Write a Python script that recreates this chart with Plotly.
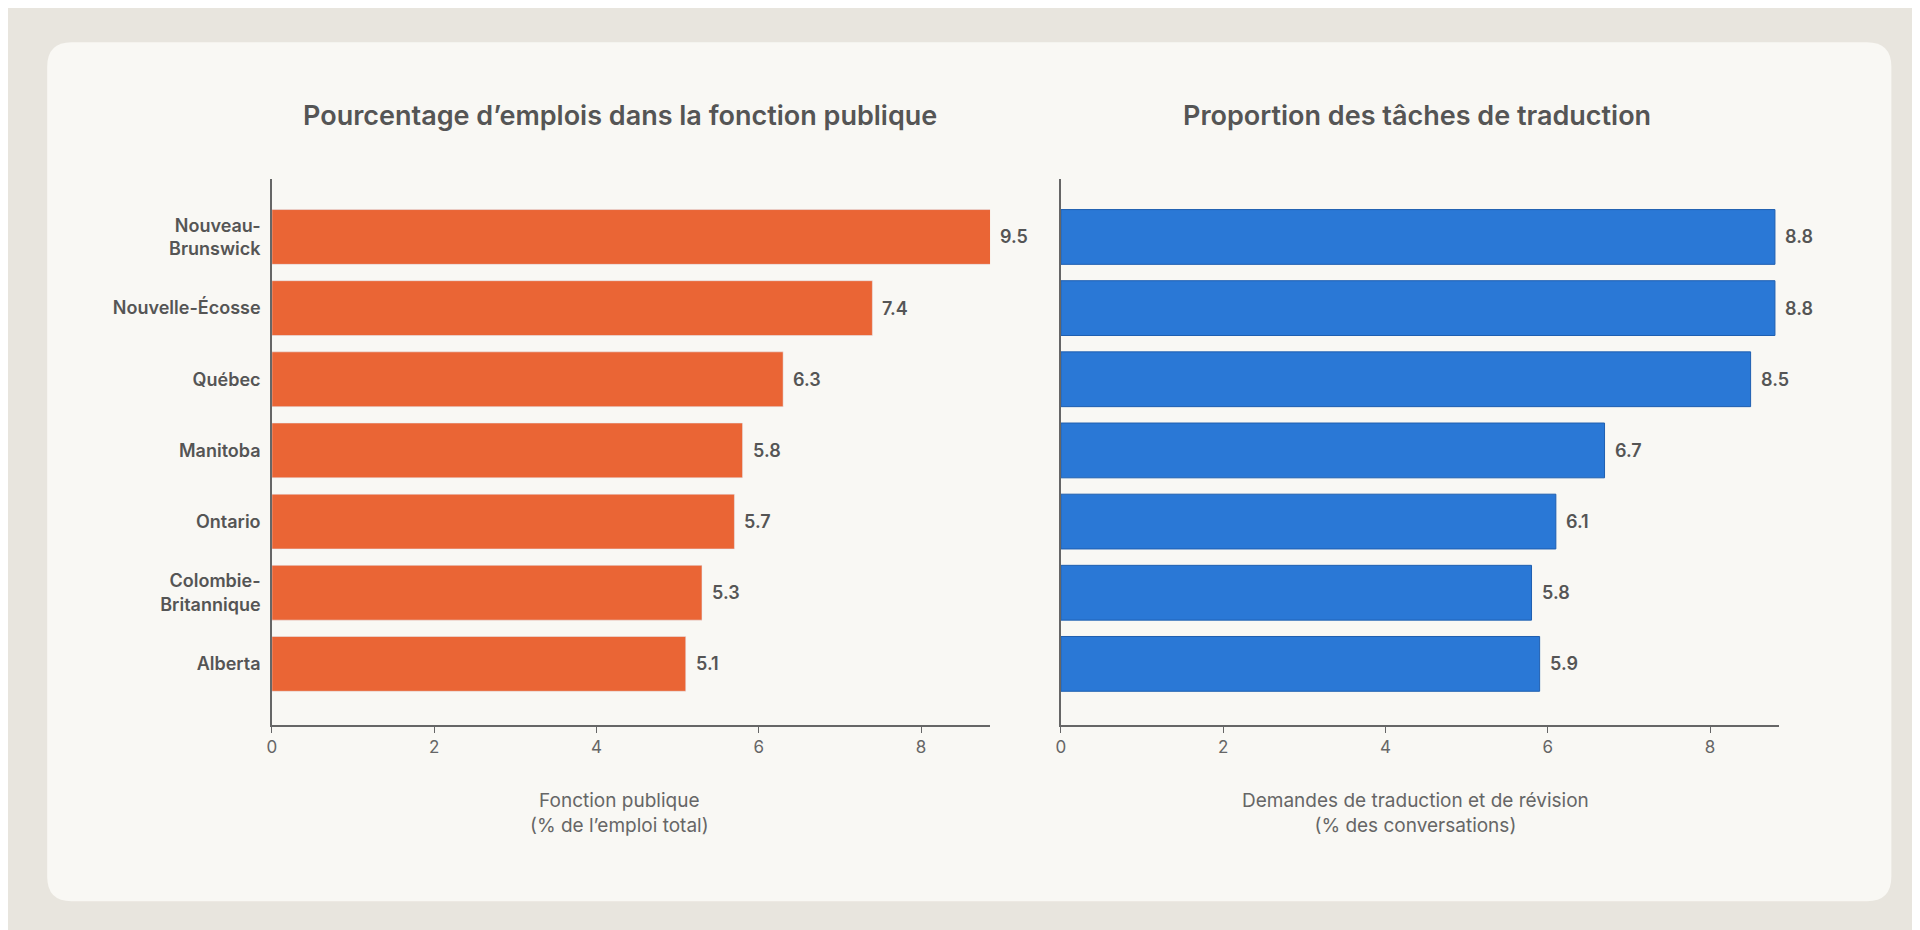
import plotly.graph_objects as go

provinces = ["Nouveau-<br>Brunswick", "Nouvelle-Écosse", "Québec", "Manitoba",
             "Ontario", "Colombie-<br>Britannique", "Alberta"]
fonction_publique = [9.5, 7.4, 6.3, 5.8, 5.7, 5.3, 5.1]
traduction = [8.8, 8.8, 8.5, 6.7, 6.1, 5.8, 5.9]
xmax = 8.85

W, H = 1568, 760
def fx(px): return px / W
def fy(py): return 1 - py / H

fig = go.Figure()
fig.add_bar(x=fonction_publique, y=provinces, orientation="h", marker_color="#EA6535",
            xaxis="x", yaxis="y")
fig.add_bar(x=traduction, y=provinces, orientation="h", marker_color="#2A78D6",
            marker_line=dict(color="#1f5fb0", width=1), xaxis="x2", yaxis="y2")

for vals, xa, ya in [(fonction_publique, "x", "y"), (traduction, "x2", "y2")]:
    for p, v in zip(provinces, vals):
        fig.add_annotation(x=min(v, xmax), y=p, xref=xa, yref=ya, text=f"{v:.1f}",
                           showarrow=False, xanchor="left", xshift=8,
                           font=dict(size=18, color="#555", weight=600))

axis_common = dict(range=[0, xmax], tickvals=[0, 2, 4, 6, 8], showgrid=False, zeroline=False,
                   showline=True, linecolor="#666", linewidth=1.5, ticks="outside",
                   ticklen=6, tickcolor="#666", tickfont=dict(size=17, color="#666"))
y_common = dict(categoryorder="array", categoryarray=provinces, range=[6.86, -0.81],
                showgrid=False, showline=True, linecolor="#666", linewidth=1.5, ticks="")
fig.update_layout(
    width=1920, height=930, margin=dict(l=0, r=0, t=0, b=0),
    paper_bgcolor="#E8E5DE", plot_bgcolor="rgba(0,0,0,0)", showlegend=False,
    bargap=0.23, font=dict(family="Inter, Open Sans, sans-serif"),
    xaxis=dict(domain=[fx(212), fx(800)], anchor="y", **axis_common),
    xaxis2=dict(domain=[fx(858), fx(1446)], anchor="y2", **axis_common),
    yaxis=dict(domain=[fy(586), fy(140)], anchor="x",
               tickfont=dict(size=18, color="#555", weight=600), ticklabelstandoff=6, **y_common),
    yaxis2=dict(domain=[fy(586), fy(140)], anchor="x2", showticklabels=False, **y_common),
)

# rounded card
x0, x1, y0, y1 = fx(28), fx(1538), fy(730), fy(28)
rx, ry = 20 / W, 20 / H
path = (f"M {x0+rx},{y0} L {x1-rx},{y0} Q {x1},{y0} {x1},{y0+ry} L {x1},{y1-ry} "
        f"Q {x1},{y1} {x1-rx},{y1} L {x0+rx},{y1} Q {x0},{y1} {x0},{y1-ry} "
        f"L {x0},{y0+ry} Q {x0},{y0} {x0+rx},{y0} Z")
fig.add_shape(type="path", path=path, xref="paper", yref="paper",
              fillcolor="#F9F8F4", line_width=0, layer="below")

for text, cx in [("Pourcentage d’emplois dans la fonction publique", 497),
                 ("Proportion des tâches de traduction", 1150)]:
    fig.add_annotation(x=fx(cx), y=fy(88), xref="paper", yref="paper", text=text,
                       showarrow=False, xanchor="center", yanchor="middle",
                       font=dict(size=27, color="#555", weight=600))
for text, cx in [("Fonction publique<br>(% de l’emploi total)", 497),
                 ("Demandes de traduction et de révision<br>(% des conversations)", 1148)]:
    fig.add_annotation(x=fx(cx), y=fy(658), xref="paper", yref="paper", text=text,
                       showarrow=False, xanchor="center", yanchor="middle",
                       font=dict(size=19, color="#666"))

fig.write_html("out.html")
